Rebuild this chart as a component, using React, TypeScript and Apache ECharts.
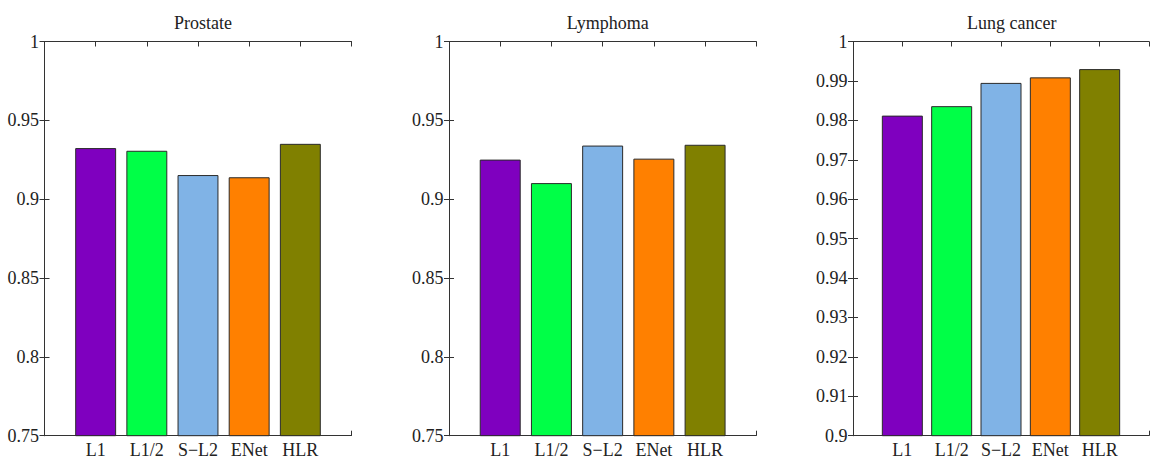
import React, { useEffect, useRef } from "react";
import * as echarts from "echarts";

const categories = ["L1", "L1/2", "S\u2212L2", "ENet", "HLR"];
const barColors = ["#7F00BF", "#00FF47", "#80B3E6", "#FF8000", "#808000"];
const panelTitles = ["Prostate", "Lymphoma", "Lung cancer"];
const prostate = [0.9324, 0.9307, 0.9153, 0.9139, 0.9351];
const lymphoma = [0.9251, 0.9102, 0.934, 0.9257, 0.9345];
const lungCancer = [0.9812, 0.9836, 0.9895, 0.9909, 0.993];
const yMins = [0.75, 0.75, 0.9];
const yMax = 1;
const yIntervals = [0.05, 0.05, 0.01];

const FONT = "Liberation Serif";
const FS = 18;

export default function App() {
  const ref = useRef<HTMLDivElement>(null);
  useEffect(() => {
    document.body.style.margin = "0";
    if (!ref.current) return;
    const chart = echarts.init(ref.current, null, { renderer: "svg" });
    const W = 1152;
    const grids = [
      { left: 44.5, width: 307 },
      { left: 449, width: 307.3 },
      { left: 853, width: 307.5 },
    ];
    const top = 41.5;
    const bottom = 23.3;
    const seriesData = [prostate, lymphoma, lungCancer];
    const axisColor = "#333";
    const fmt = (v: number) => String(+v.toFixed(4));
    const labelStyle = {
      fontFamily: FONT,
      fontSize: FS,
      color: "#222",
    };

    const option: any = {
      animation: false,
      backgroundColor: "#fff",
      textStyle: { fontFamily: FONT, fontSize: FS },
      title: grids.map((g, i) => ({
        text: panelTitles[i],
        left: g.left + g.width / 2,
        top: 9,
        textAlign: "center",
        textStyle: { fontFamily: FONT, fontSize: FS, fontWeight: "normal", color: "#222" },
      })),
      grid: grids.map((g) => ({
        left: g.left,
        right: W - g.left - g.width,
        top,
        bottom,
        containLabel: false,
      })),
      xAxis: grids.flatMap((g, i) => [
        {
          type: "value",
          gridIndex: i,
          position: "bottom",
          min: 0,
          max: 6,
          interval: 1,
          splitLine: { show: false },
          axisLine: { show: true, lineStyle: { color: axisColor, width: 1 } },
          axisTick: { show: true, inside: true, length: 5, lineStyle: { color: axisColor } },
          axisLabel: {
            show: true,
            margin: 5,
            ...labelStyle,
            formatter: (v: number) => categories[v - 1] ?? "",
          },
        },
        {
          type: "value",
          gridIndex: i,
          position: "top",
          min: 0,
          max: 6,
          interval: 1,
          splitLine: { show: false },
          axisLine: { show: true, lineStyle: { color: axisColor, width: 1 } },
          axisTick: { show: true, inside: true, length: 5, lineStyle: { color: axisColor } },
          axisLabel: { show: false },
        },
      ]),
      yAxis: grids.flatMap((g, i) => [
        {
          type: "value",
          gridIndex: i,
          position: "left",
          min: yMins[i],
          max: yMax,
          interval: yIntervals[i],
          splitLine: { show: false },
          axisLine: { show: true, lineStyle: { color: axisColor, width: 1 } },
          axisTick: { show: true, inside: true, length: 5, lineStyle: { color: axisColor } },
          axisLabel: {
            show: true,
            margin: 5.5,
            ...labelStyle,
            formatter: fmt,
          },
        },
        {
          type: "value",
          gridIndex: i,
          position: "right",
          min: yMins[i],
          max: yMax,
          interval: yIntervals[i],
          splitLine: { show: false },
          axisLine: { show: true, lineStyle: { color: axisColor, width: 1 } },
          axisTick: { show: true, inside: true, length: 5, lineStyle: { color: axisColor } },
          axisLabel: { show: false },
        },
      ]),
      series: grids.map((g, i) => ({
        type: "bar",
        xAxisIndex: 2 * i,
        yAxisIndex: 2 * i,
        barWidth: (g.width / 6) * 0.8,
        clip: true,
        data: seriesData[i].map((v, j) => ({
          value: [j + 1, v],
          itemStyle: { color: barColors[j], borderColor: "#2a2a2a", borderWidth: 1 },
        })),
      })),
    };
    chart.setOption(option);
    return () => chart.dispose();
  }, []);
  return <div ref={ref} style={{ width: 1152, height: 459 }} />;
}
